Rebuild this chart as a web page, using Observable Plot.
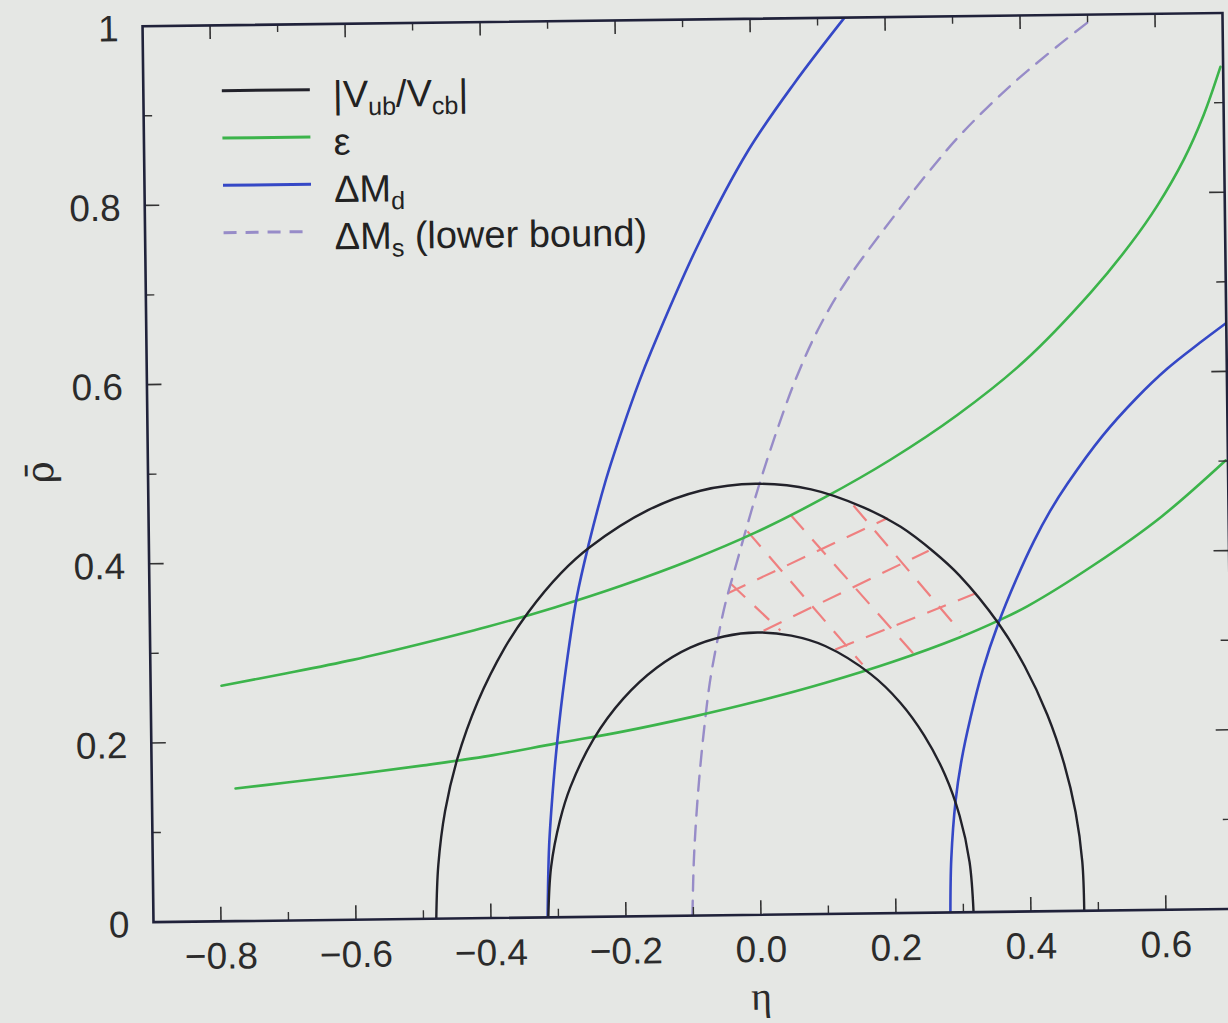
<!DOCTYPE html>
<html>
<head>
<meta charset="utf-8">
<script src="https://cdn.jsdelivr.net/npm/d3@7"></script>
<script src="https://cdn.jsdelivr.net/npm/@observablehq/plot@0.6"></script>
<style>
  html, body { margin: 0; padding: 0; background: #e5e7e4; overflow: hidden; }
  #wrap { position: relative; width: 1228px; height: 1023px; transform: rotate(-0.7deg); transform-origin: 614px 511px; }
  #wrap svg { display: block; }
</style>
</head>
<body>
<div id="wrap"></div>
<script>
// ---------- data (x = η axis, y = ρ̄ axis) ----------
const vubOuter = [[-0.481,0],[-0.477,0.06],[-0.466,0.12],[-0.447,0.178],[-0.416,0.241],[-0.375,0.301],[-0.340,0.340],[-0.290,0.384],[-0.246,0.413],[-0.16,0.453],[-0.082,0.474],[0,0.481],[0.082,0.474],[0.16,0.453],[0.214,0.431],[0.262,0.403],[0.30,0.376],[0.357,0.322],[0.395,0.274],[0.428,0.219],[0.452,0.164],[0.468,0.11],[0.477,0.055],[0.479,0]];
const vubInner = [[-0.315,0],[-0.310,0.056],[-0.296,0.108],[-0.280,0.145],[-0.245,0.198],[-0.20,0.243],[-0.15,0.277],[-0.10,0.299],[-0.05,0.311],[0,0.315],[0.05,0.311],[0.10,0.299],[0.167,0.267],[0.210,0.235],[0.245,0.198],[0.275,0.154],[0.296,0.108],[0.310,0.056],[0.315,0]];
const epsUpper = [[-0.795,0.263],[-0.70,0.2757],[-0.60,0.290],[-0.50,0.3068],[-0.40,0.3251],[-0.30,0.3458],[-0.20,0.3693],[-0.10,0.396],[0,0.427],[0.10,0.464],[0.20,0.506],[0.30,0.555],[0.40,0.614],[0.50,0.690],[0.56,0.744],[0.60,0.786],[0.64,0.837],[0.67,0.886],[0.696,0.94]];
const epsLower = [[-0.776,0.148],[-0.70,0.154],[-0.60,0.162],[-0.50,0.171],[-0.40,0.181],[-0.30,0.194],[-0.20,0.2065],[-0.10,0.2215],[0,0.2385],[0.10,0.258],[0.20,0.2805],[0.30,0.307],[0.357,0.325],[0.40,0.3405],[0.50,0.386],[0.60,0.4385],[0.6965,0.5006]];
const dmdLeft = [[-0.316,0],[-0.3125,0.08],[-0.305,0.15],[-0.298,0.2],[-0.287,0.264],[-0.267,0.357],[-0.248,0.417],[-0.222,0.487],[-0.196,0.545],[-0.170,0.598],[-0.152,0.631],[-0.080,0.75],[-0.005,0.853],[0.064,0.927],[0.140,1.0]];
const dmdRight = [[0.2807,0],[0.2830,0.06],[0.2905,0.125],[0.300,0.17],[0.314,0.217],[0.333,0.27],[0.357,0.322],[0.385,0.372],[0.411,0.413],[0.436,0.447],[0.462,0.477],[0.515,0.530],[0.565,0.571],[0.612,0.604],[0.66,0.632],[0.699,0.6535]];
const dmsLower = [[-0.1015,0],[-0.0985,0.06],[-0.094,0.11],[-0.088,0.16],[-0.0805,0.21],[-0.0715,0.26],[-0.060,0.305],[-0.047,0.348],[-0.030,0.392],[-0.012,0.438],[0.0072,0.4846],[0.03,0.535],[0.06,0.595],[0.095,0.652],[0.137,0.705],[0.209,0.777],[0.26,0.825],[0.31,0.868],[0.385,0.922],[0.4596,0.968],[0.51,0.997]];
// allowed-region cross hatch: [x1, y1, x2, y2]
const hatchRising  = [[-0.044,0.359,0.195,0.441],[0.009,0.317,0.255,0.404],[0.115,0.295,0.325,0.356]];
const hatchFalling = [[-0.039,0.370,0.034,0.317],[-0.013,0.428,0.155,0.278],[0.051,0.446,0.232,0.288],[0.1445,0.4554,0.301,0.313]];

// ticks and labels
const xMajor = [-0.8,-0.6,-0.4,-0.2,0.0,0.2,0.4,0.6];
const xMinor = [-0.7,-0.5,-0.3,-0.1,0.1,0.3,0.5];
const xTickLabels = ["−0.8","−0.6","−0.4","−0.2","0.0","0.2","0.4","0.6"];
const yMajor = [0,0.2,0.4,0.6,0.8,1];
const yMinor = [0.1,0.3,0.5,0.7,0.9];
const yTickLabels = ["0","0.2","0.4","0.6","0.8","1"];
const xTitle = "η";
const yTitle = "ρ̄";

// legend
const legendNames = [
  [["|V"],["ub",1],["/V"],["cb",1],["|"]],
  [["ε"]],
  [["ΔM"],["d",1]],
  [["ΔM"],["s",1],[" (lower bound)"]]
];
const legendColors = ["#22222a","#3cb44b","#3548c6","#978cc8"];
const legendDash = [null,null,null,"13,9"];

// ---------- chart ----------
const W = 1228, H = 1023, mL = 148, mR = 0, mT = 20, mB = 107;
const innerW = W - mL - mR, innerH = H - mT - mB;
const pts = a => a.map(([x, y]) => ({x, y}));
const seg = a => a.map(([x1, y1, x2, y2]) => ({x1, y1, x2, y2}));
const xLab = new Map(xMajor.map((d, i) => [d, xTickLabels[i]]));
const yLab = new Map(yMajor.map((d, i) => [d, yTickLabels[i]]));
const axisColor = "#20223a";
const lineOpts = (c, extra = {}) => ({x: "x", y: "y", stroke: c, strokeWidth: 2.6, curve: "catmull-rom", clip: true, ...extra});

const chart = Plot.plot({
  width: W, height: H,
  marginLeft: mL, marginRight: mR, marginTop: mT, marginBottom: mB,
  x: {domain: [-0.9, 0.7]},
  y: {domain: [0, 1]},
  style: {background: "none", overflow: "visible", color: "#2b2b2b", fontFamily: "'Liberation Sans', Arial, Helvetica, sans-serif"},
  marks: [
    // hatch
    Plot.link(seg(hatchRising), {x1: "x1", y1: "y1", x2: "x2", y2: "y2", stroke: "#ef8080", strokeWidth: 2.2, strokeDasharray: "20,13"}),
    Plot.link(seg(hatchFalling), {x1: "x1", y1: "y1", x2: "x2", y2: "y2", stroke: "#ef8080", strokeWidth: 2.2, strokeDasharray: "20,13"}),
    // curves
    Plot.line(pts(dmsLower), lineOpts("#978cc8", {strokeWidth: 2.4, strokeDasharray: "15,10"})),
    Plot.line(pts(epsUpper), lineOpts("#3cb44b")),
    Plot.line(pts(epsLower), lineOpts("#3cb44b")),
    Plot.line(pts(dmdLeft), lineOpts("#3548c6")),
    Plot.line(pts(dmdRight), lineOpts("#3548c6")),
    Plot.line(pts(vubOuter), lineOpts("#22222a", {strokeWidth: 2.4})),
    Plot.line(pts(vubInner), lineOpts("#22222a", {strokeWidth: 2.4})),
    // inward ticks
    Plot.tickX(xMajor, {x: d => d, insetTop: innerH - 14, stroke: "#333", strokeWidth: 1.6}),
    Plot.tickX(xMinor, {x: d => d, insetTop: innerH - 8, stroke: "#333", strokeWidth: 1.4}),
    Plot.tickX(xMajor, {x: d => d, insetBottom: innerH - 14, stroke: "#333", strokeWidth: 1.6}),
    Plot.tickX(xMinor, {x: d => d, insetBottom: innerH - 8, stroke: "#333", strokeWidth: 1.4}),
    Plot.tickY(yMajor, {y: d => d, insetRight: innerW - 15, stroke: "#333", strokeWidth: 1.6}),
    Plot.tickY(yMinor, {y: d => d, insetRight: innerW - 9, stroke: "#333", strokeWidth: 1.4}),
    Plot.tickY(yMajor, {y: d => d, insetLeft: innerW - 15, stroke: "#333", strokeWidth: 1.6}),
    Plot.tickY(yMinor, {y: d => d, insetLeft: innerW - 9, stroke: "#333", strokeWidth: 1.4}),
    // frame
    Plot.frame({stroke: axisColor, strokeWidth: 2.6}),
    // tick labels
    Plot.axisX({ticks: xMajor, tickFormat: d => xLab.get(d), tickSize: 0, tickPadding: 21, fontSize: 37, label: null}),
    Plot.axisY({ticks: yMajor, tickFormat: d => yLab.get(d), tickSize: 0, tickPadding: 24, fontSize: 37, label: null, dy: 3}),
    // axis titles
    Plot.text([xTitle], {text: d => d, frameAnchor: "bottom", dx: 67, dy: 95, fontSize: 40, fontFamily: "'Liberation Serif', 'DejaVu Serif', serif", fill: "#2b2b2b"}),
    Plot.text([yTitle], {text: d => d, frameAnchor: "left", dx: -107, dy: 8, rotate: -90, fontSize: 38, fontFamily: "'DejaVu Serif', 'Liberation Serif', serif", fill: "#2b2b2b"})
  ]
});
const wrap = document.getElementById("wrap");
wrap.appendChild(chart);

// ---------- in-plot legend (top left) ----------
const lg = d3.select(wrap).append("svg")
  .attr("width", W).attr("height", H)
  .style("position", "absolute").style("left", 0).style("top", 0).style("pointer-events", "none")
  .attr("font-family", "'Liberation Sans', Arial, Helvetica, sans-serif").attr("font-size", 38).attr("fill", "#222");
legendNames.forEach((parts, i) => {
  const y = 86 + i * 47.3;
  lg.append("line").attr("x1", 227).attr("x2", 315).attr("y1", y).attr("y2", y)
    .attr("stroke", legendColors[i]).attr("stroke-width", 3).attr("stroke-dasharray", legendDash[i]);
  const t = lg.append("text").attr("x", 338).attr("y", y + 18);
  let shifted = false;
  parts.forEach(([s, sub]) => {
    const ts = t.append("tspan").text(s);
    if (sub && !shifted) { ts.attr("dy", 8).attr("font-size", 25); shifted = true; }
    else if (sub) { ts.attr("font-size", 25); }
    else if (shifted) { ts.attr("dy", -8); shifted = false; }
  });
});
</script>
</body>
</html>
